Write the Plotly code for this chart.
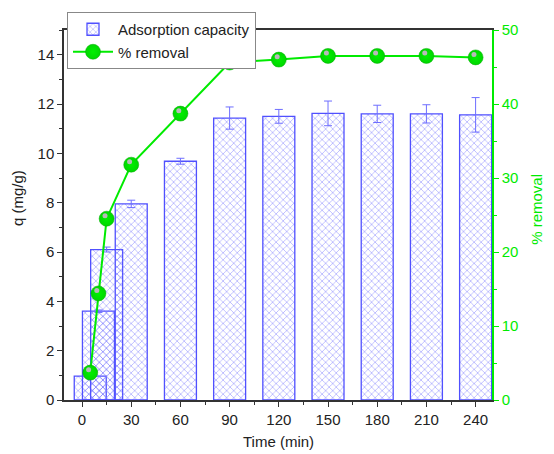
import plotly.graph_objects as go

time_min = [5, 10, 15, 30, 60, 90, 120, 150, 180, 210, 240]
q_mg_g = [0.97, 3.6, 6.1, 7.95, 9.68, 11.43, 11.5, 11.62, 11.6, 11.6, 11.56]
q_err = [0.0, 0.05, 0.1, 0.15, 0.12, 0.45, 0.28, 0.5, 0.35, 0.37, 0.7]
removal_pct = [3.7, 14.4, 24.5, 31.8, 38.7, 45.6, 46.0, 46.5, 46.5, 46.5, 46.3]
x_ticks = [0, 30, 60, 90, 120, 150, 180, 210, 240]

BLUE = "rgb(80,80,255)"
GREEN = "rgb(0,235,0)"
FONT = "Liberation Sans, Arial, sans-serif"

W, H = 546, 446  # page body has an 8px margin
L, R, T, B = 56, 62, 22, 54
PW, PH = W - L - R, H - T - B

fig = go.Figure()
fig.add_trace(go.Bar(
    x=time_min, y=q_mg_g, width=19.5,
    name="Adsorption capacity",
    marker=dict(color="rgba(125,125,255,0.8)",
                line=dict(color=BLUE, width=1.3),
                pattern=dict(shape="x", size=5, solidity=0.22, fillmode="replace")),
    error_y=dict(type="data", array=q_err, color="rgb(110,110,255)", thickness=1, width=4),
    yaxis="y",
))
fig.add_trace(go.Scatter(
    x=time_min, y=removal_pct, mode="lines+markers", name="% removal",
    line=dict(color=GREEN, width=2),
    marker=dict(size=15, color="rgb(0,215,0)",
                gradient=dict(type="radial", color="rgb(0,240,0)"),
                line=dict(color="rgb(0,170,0)", width=0.5)),
    yaxis="y2",
))

# small highlight to mimic the sphere-shaped markers
fig.add_trace(go.Scatter(
    x=[t - 1.0 for t in time_min], y=[r + 0.4 for r in removal_pct], mode="markers",
    marker=dict(size=5, color="rgb(185,185,185)", line=dict(width=0)),
    yaxis="y2", showlegend=False, hoverinfo="skip",
))

fig.update_layout(
    width=W, height=H,
    margin=dict(l=L, r=R, t=T, b=B, autoexpand=False),
    plot_bgcolor="white", paper_bgcolor="white",
    barmode="overlay",
    font=dict(family=FONT, size=15, color="#222"),
    xaxis=dict(range=[-11, 250], tickvals=x_ticks, showline=True, linecolor="#333",
               linewidth=1.5, mirror=True, ticks="outside", ticklen=5, tickcolor="#333",
               minor=dict(dtick=15, tick0=0, ticks="outside", ticklen=3, tickcolor="#333"),
               showgrid=False, zeroline=False),
    yaxis=dict(range=[0, 15], tickvals=[0, 2, 4, 6, 8, 10, 12, 14], showline=True,
               linecolor="#333", linewidth=1.5, ticks="outside", ticklen=5, tickcolor="#333",
               minor=dict(dtick=1, tick0=0, ticks="outside", ticklen=3, tickcolor="#333"),
               showgrid=False, zeroline=False),
    yaxis2=dict(range=[0, 50], tickvals=[0, 10, 20, 30, 40, 50], overlaying="y", side="right",
                showline=True, linecolor=GREEN, linewidth=1.5, ticks="outside", ticklen=5,
                tickcolor=GREEN, tickfont=dict(color=GREEN, size=15),
                minor=dict(dtick=5, tick0=0, ticks="outside", ticklen=3, tickcolor=GREEN),
                showgrid=False, zeroline=False),
    legend=dict(x=59 / W, y=1 - 4 / H, xref="container", yref="container",
                xanchor="left", yanchor="top",
                bgcolor="white", bordercolor="#888", borderwidth=1,
                font=dict(size=15, color="#222"), tracegroupgap=0, itemwidth=40),
    showlegend=True,
    annotations=[
        dict(text="Time (min)", xref="paper", yref="paper", x=(270 - L) / PW,
             y=(PH + T - 433) / PH, xanchor="center", yanchor="middle",
             showarrow=False, font=dict(size=15, color="#222")),
        dict(text="q (mg/g)", xref="paper", yref="paper", x=(10 - L) / PW,
             y=0.546, xanchor="center", yanchor="middle", textangle=-90,
             showarrow=False, font=dict(size=15, color="#222")),
        dict(text="% removal", xref="paper", yref="paper", x=(529 - L) / PW,
             y=0.514, xanchor="center", yanchor="middle", textangle=-90,
             showarrow=False, font=dict(size=15, color=GREEN)),
    ],
)

fig.write_html("out.html")
